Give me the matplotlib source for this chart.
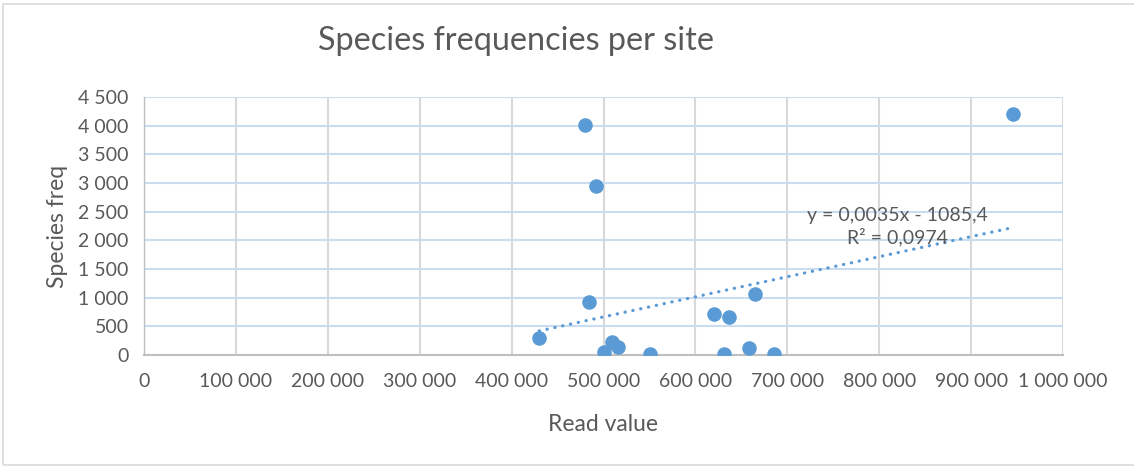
import numpy as np
import matplotlib.pyplot as plt
from matplotlib.ticker import FuncFormatter, MultipleLocator
from matplotlib.patches import Rectangle

# Data
read_value = [480000, 492000, 484000, 430000, 509000, 516000, 501000, 551000,
              620000, 637000, 665000, 631000, 658000, 686000, 946000]
species_freq = [4010, 2950, 930, 290, 220, 135, 45, 12,
                715, 660, 1060, 12, 115, 22, 4210]

# Trendline as printed on the chart
slope = 0.0035
intercept = -1085.4
trend_text = "y = 0,0035x - 1085,4\nR² = 0,0974"

plt.rcParams['font.family'] = ['Lato', 'DejaVu Sans']
blue = '#5b9bd5'
txt = '#595959'

fig = plt.figure(figsize=(11.34, 4.67), dpi=100)
ax = fig.add_axes([144/1134, 1 - 355/467, (1063-144)/1134, (355-97)/467])

# border around the whole chart (right side runs off the image)
fig.patches.append(Rectangle((3/1134, 2/467), 1.02, 461/467,
                             transform=fig.transFigure, fill=False,
                             edgecolor='#d9d9d9', linewidth=1.2))

ax.set_xlim(0, 1000000)
ax.set_ylim(0, 4500)
ax.xaxis.set_major_locator(MultipleLocator(100000))
ax.yaxis.set_major_locator(MultipleLocator(500))

def spaced(v, pos):
    return f"{int(round(v)):,}".replace(",", " ")

ax.xaxis.set_major_formatter(FuncFormatter(spaced))
ax.yaxis.set_major_formatter(FuncFormatter(spaced))

ax.grid(axis='y', color='#c9dcf0', linewidth=1.5, zorder=0)
ax.grid(axis='x', color='#d9d9d9', linewidth=1.5, zorder=0)
ax.set_axisbelow(True)
for s in ['top', 'right']:
    ax.spines[s].set_visible(False)
ax.spines['bottom'].set_color('#bfbfbf')
ax.spines['bottom'].set_linewidth(1.5)
ax.spines['left'].set_color('#bfbfbf')
ax.spines['left'].set_linewidth(1.0)
ax.tick_params(length=0, labelsize=14, labelcolor=txt)
ax.tick_params(axis='x', pad=13)
ax.tick_params(axis='y', pad=11)

ax.scatter(read_value, species_freq, s=110, color=blue, zorder=3, linewidths=0)

xs = np.array([min(read_value), max(read_value)])
ax.plot(xs, slope * xs + intercept, linestyle=(0, (0.1, 2.4)), color=blue,
        linewidth=2.3, dash_capstyle='round', zorder=2)

ax.text(897/1134, 1 - 227/467, trend_text, transform=fig.transFigure,
        ha='center', va='center', multialignment='center', fontsize=14,
        color=txt, linespacing=1.25)

fig.text(516/1134, 1 - 41/467, "Species frequencies per site", ha='center',
         va='center', fontsize=23.3, color=txt)
ax.set_xlabel("Read value", fontsize=16.5, color=txt, labelpad=17)
ax.set_ylabel("Species freq", fontsize=16.5, color=txt, labelpad=7)

fig.savefig("out.png", dpi=100)
